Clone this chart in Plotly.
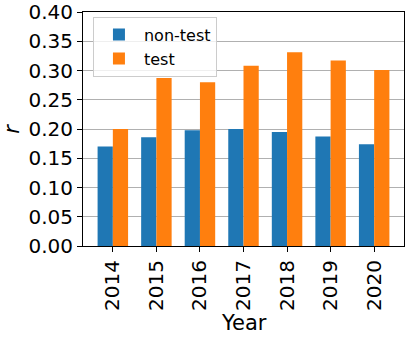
import plotly.graph_objects as go

# Year-wise r values for non-test and test code
years = ["2014", "2015", "2016", "2017", "2018", "2019", "2020"]
non_test = [0.170, 0.186, 0.198, 0.200, 0.195, 0.187, 0.174]
test = [0.200, 0.287, 0.280, 0.308, 0.331, 0.317, 0.301]

FONT = "DejaVu Sans"

fig = go.Figure()
fig.add_trace(go.Bar(x=years, y=non_test, name="non-test", marker_color="#1f77b4",
                     marker_line_width=0))
fig.add_trace(go.Bar(x=years, y=test, name="test", marker_color="#ff7f0e",
                     marker_line_width=0))

fig.update_layout(
    width=407, height=339, autosize=False,
    margin=dict(l=83, r=3, t=12, b=93, autoexpand=False),
    plot_bgcolor="white", paper_bgcolor="white",
    barmode="group", bargap=0.3, bargroupgap=0,
    font=dict(family=FONT, size=20, color="black"),
    legend=dict(x=0.031, y=0.98, xanchor="left", yanchor="top",
                bgcolor="rgba(255,255,255,0.8)", bordercolor="#cccccc", borderwidth=1,
                font=dict(size=16), itemwidth=40),
)
fig.update_xaxes(type="category", range=[-0.685, 6.685], tickangle=-90,
                 showline=True, linecolor="black", linewidth=1, mirror=True,
                 ticks="outside", ticklen=5, tickcolor="black", automargin=False)
fig.update_yaxes(range=[0, 0.40], dtick=0.05, tickformat=".2f",
                 showline=True, linecolor="black", linewidth=1, mirror=True,
                 ticks="outside", ticklen=5, tickcolor="black", automargin=False,
                 showgrid=True, gridcolor="#b0b0b0", gridwidth=1)

# axis titles placed as in the reference
fig.add_annotation(text="Year", xref="paper", yref="paper", x=0.5, y=-0.33,
                   xanchor="center", yanchor="middle", showarrow=False,
                   font=dict(size=21))
fig.add_annotation(text="<i>r</i>", xref="paper", yref="paper", x=-0.222, y=0.5,
                   xanchor="center", yanchor="middle", showarrow=False,
                   textangle=-90, font=dict(size=21))

# drop the default page margin so the figure sits at the window's corner
fig.write_html("out.html", config={"displayModeBar": False},
               post_script="document.body.style.margin='0';")
